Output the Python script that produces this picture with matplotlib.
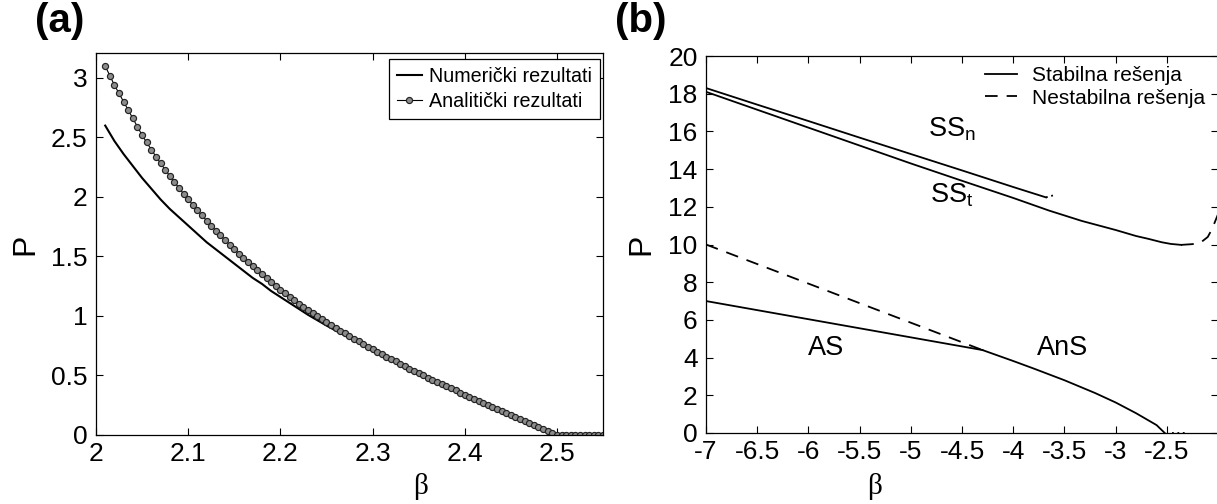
import matplotlib
matplotlib.use("Agg")
import matplotlib.pyplot as plt
from matplotlib.ticker import FixedLocator, FixedFormatter

plt.rcParams["font.family"] = ["Liberation Sans", "DejaVu Sans"]
plt.rcParams["axes.unicode_minus"] = False

# ---------------- panel (a): P versus beta ----------------
beta_num = [2.01, 2.02, 2.03, 2.04, 2.05, 2.06, 2.07, 2.08, 2.09, 2.10,
            2.11, 2.12, 2.13, 2.14, 2.15, 2.16, 2.17, 2.18, 2.19, 2.20,
            2.21, 2.22, 2.23, 2.24, 2.25, 2.26, 2.27, 2.28, 2.29, 2.30,
            2.31, 2.32, 2.33, 2.34, 2.35, 2.36, 2.37, 2.38, 2.39, 2.40,
            2.41, 2.42, 2.43, 2.44, 2.45, 2.46, 2.47, 2.48, 2.49, 2.50,
            2.55]
p_num = [2.60, 2.47, 2.36, 2.26, 2.16, 2.07, 1.98, 1.90, 1.83, 1.76,
         1.69, 1.62, 1.56, 1.50, 1.44, 1.38, 1.32, 1.27, 1.21, 1.16,
         1.11, 1.06, 1.01, 0.965, 0.92, 0.878, 0.836, 0.795, 0.755, 0.715,
         0.676, 0.637, 0.598, 0.559, 0.52, 0.484, 0.448, 0.412, 0.376, 0.34,
         0.306, 0.272, 0.238, 0.204, 0.17, 0.136, 0.102, 0.068, 0.034, 0.0,
         0.0]

beta_an = [2.010, 2.015, 2.020, 2.025, 2.030, 2.035, 2.040, 2.045, 2.050,
           2.055, 2.060, 2.065, 2.070, 2.075, 2.080, 2.085, 2.090, 2.095, 2.100,
           2.105, 2.110, 2.115, 2.120, 2.125, 2.130, 2.135, 2.140, 2.145, 2.150,
           2.155, 2.160, 2.165, 2.170, 2.175, 2.180, 2.185, 2.190, 2.195, 2.200,
           2.205, 2.210, 2.215, 2.220, 2.225, 2.230, 2.235, 2.240, 2.245, 2.250,
           2.255, 2.260, 2.265, 2.270, 2.275, 2.280, 2.285, 2.290, 2.295, 2.300,
           2.305, 2.310, 2.315, 2.320, 2.325, 2.330, 2.335, 2.340, 2.345, 2.350,
           2.355, 2.360, 2.365, 2.370, 2.375, 2.380, 2.385, 2.390, 2.395, 2.400,
           2.405, 2.410, 2.415, 2.420, 2.425, 2.430, 2.435, 2.440, 2.445, 2.450,
           2.455, 2.460, 2.465, 2.470, 2.475, 2.480, 2.485, 2.490, 2.495, 2.500,
           2.505, 2.510, 2.515, 2.520, 2.525, 2.530, 2.535, 2.540, 2.545, 2.550]
p_an = [3.10, 3.02, 2.94, 2.87, 2.80, 2.73, 2.66, 2.59, 2.52,
        2.458, 2.398, 2.340, 2.284, 2.230, 2.177, 2.126, 2.076, 2.027, 1.980,
        1.934, 1.889, 1.845, 1.802, 1.760, 1.718, 1.677, 1.637, 1.598, 1.560,
        1.523, 1.487, 1.452, 1.417, 1.383, 1.349, 1.316, 1.283, 1.251, 1.220,
        1.190, 1.161, 1.133, 1.105, 1.078, 1.051, 1.025, 1.000, 0.975, 0.950,
        0.926, 0.902, 0.878, 0.855, 0.832, 0.809, 0.786, 0.764, 0.742, 0.720,
        0.699, 0.678, 0.658, 0.638, 0.618, 0.598, 0.578, 0.558, 0.539, 0.520,
        0.501, 0.482, 0.464, 0.446, 0.428, 0.410, 0.392, 0.374, 0.357, 0.340,
        0.323, 0.306, 0.289, 0.272, 0.255, 0.238, 0.221, 0.204, 0.187, 0.170,
        0.153, 0.136, 0.119, 0.102, 0.085, 0.068, 0.051, 0.034, 0.017, 0.000,
        0.0, 0.0, 0.0, 0.0, 0.0, 0.0, 0.0, 0.0, 0.0, 0.0]

a_xticks = [2.0, 2.1, 2.2, 2.3, 2.4, 2.5]
a_xticklabels = ["2", "2.1", "2.2", "2.3", "2.4", "2.5"]
a_yticks = [0, 0.5, 1.0, 1.5, 2.0, 2.5, 3.0]
a_yticklabels = ["0", "0.5", "1", "1.5", "2", "2.5", "3"]
a_legend = ["Numerički rezultati", "Analitički rezultati"]

# ---------------- panel (b): solution branches ----------------
ssn_beta = [-7.0, -6.5, -6.0, -5.5, -5.0, -4.5, -4.0, -3.68]
ssn_p = [18.3, 17.42, 16.55, 15.67, 14.8, 13.93, 13.05, 12.5]
ssn_tail_beta = [-3.68, -3.6]
ssn_tail_p = [12.5, 12.62]

sst_beta = [-7.0, -6.5, -6.0, -5.5, -5.0, -4.5, -4.0, -3.65, -3.33, -3.0,
            -2.8, -2.68, -2.55, -2.46, -2.36]
sst_p = [18.1, 17.15, 16.2, 15.25, 14.3, 13.38, 12.47, 11.8, 11.25, 10.77,
         10.45, 10.3, 10.12, 10.03, 9.98]
sst_unstable_beta = [-2.36, -2.25, -2.17, -2.10, -2.06, -2.03, -2.0]
sst_unstable_p = [9.98, 10.02, 10.1, 10.4, 10.8, 11.2, 11.6]

as_beta = [-7.0, -4.3]
as_p = [7.0, 4.4]
as_unstable_beta = [-7.0, -4.3]
as_unstable_p = [10.0, 4.4]

ans_beta = [-4.3, -4.0, -3.8, -3.5, -3.2, -3.0, -2.8, -2.6, -2.52]
ans_p = [4.4, 3.82, 3.42, 2.8, 2.12, 1.62, 1.05, 0.42, 0.0]
zero_tail_beta = [-2.45, -2.3]
zero_tail_p = [0.0, 0.0]

b_xticks = [-7.0, -6.5, -6.0, -5.5, -5.0, -4.5, -4.0, -3.5, -3.0, -2.5]
b_xticklabels = ["-7", "-6.5", "-6", "-5.5", "-5", "-4.5", "-4", "-3.5", "-3", "-2.5"]
b_yticks = [0, 2, 4, 6, 8, 10, 12, 14, 16, 18, 20]
b_yticklabels = [str(v) for v in b_yticks]
b_legend = ["Stabilna rešenja", "Nestabilna rešenja"]

branch_labels = [("SS$_\\mathregular{n}$", -4.6, 16.1),
                 ("SS$_\\mathregular{t}$", -4.6, 12.6),
                 ("AS", -5.83, 4.5),
                 ("AnS", -3.52, 4.5)]

W, H = 1217, 504
fig = plt.figure(figsize=(W / 100, H / 100), dpi=100)

ax1 = fig.add_axes([96 / W, (H - 435) / H, 507 / W, 382 / H])
ax2 = fig.add_axes([706 / W, (H - 433) / H, 512 / W, 377 / H])

TICK_FS = 19
for ax in (ax1, ax2):
    ax.tick_params(direction="in", top=True, right=True, length=5, width=0.8,
                   labelsize=TICK_FS, colors="black")
    ax.tick_params(axis="x", pad=5)
    ax.tick_params(axis="y", pad=6)
    for s in ax.spines.values():
        s.set_linewidth(0.9)
        s.set_color("black")

BETA_FONT = ["Liberation Serif", "DejaVu Serif"]

# panel (a)
ax1.plot(beta_num, p_num, color="black", lw=1.5, label=a_legend[0])
ax1.plot(beta_an, p_an, color="black", lw=0.8, marker="o", markersize=4.4,
         markerfacecolor="#8c8c8c", markeredgecolor="#222222", markeredgewidth=0.85,
         label=a_legend[1])
ax1.set_xlim(2.0, 2.55)
ax1.set_ylim(0, 3.21)
ax1.xaxis.set_major_locator(FixedLocator(a_xticks))
ax1.xaxis.set_major_formatter(FixedFormatter(a_xticklabels))
ax1.yaxis.set_major_locator(FixedLocator(a_yticks))
ax1.yaxis.set_major_formatter(FixedFormatter(a_yticklabels))
leg1 = ax1.legend(loc="upper right", bbox_to_anchor=(1 - 3 / 507, 1 - 6 / 382),
                  borderaxespad=0, fontsize=14.2, frameon=True, fancybox=False,
                  edgecolor="black", framealpha=1, handlelength=1.3,
                  handletextpad=0.35, borderpad=0.4, labelspacing=0.3)
leg1.get_frame().set_linewidth(0.9)
ax1.set_xlabel("β", family=BETA_FONT, fontsize=21, va="center")
ax1.xaxis.set_label_coords(0.64, -(487 - 435) / 382, transform=ax1.transAxes)
ax1.set_ylabel("P", fontsize=23)
ax1.yaxis.set_label_coords(-56 / 507, 0.5, transform=ax1.transAxes)

# panel (b)
DASH = (0, (7, 5))
ax2.plot(ssn_beta, ssn_p, color="black", lw=1.3)
ax2.plot(ssn_tail_beta, ssn_tail_p, color="black", lw=1.3, ls=(0, (1, 2)))
ax2.plot(sst_beta, sst_p, color="black", lw=1.3, label=b_legend[0])
ax2.plot(sst_unstable_beta, sst_unstable_p, color="black", lw=1.3, ls=DASH)
ax2.plot(as_beta, as_p, color="black", lw=1.3)
ax2.plot(as_unstable_beta, as_unstable_p, color="black", lw=1.3, ls=DASH,
         label=b_legend[1])
ax2.plot(ans_beta, ans_p, color="black", lw=1.3)
ax2.plot(zero_tail_beta, zero_tail_p, color="black", lw=1.3, ls=(0, (1, 2)))
ax2.set_xlim(-7, -2)
ax2.set_ylim(0, 20)
ax2.xaxis.set_major_locator(FixedLocator(b_xticks))
ax2.xaxis.set_major_formatter(FixedFormatter(b_xticklabels))
ax2.yaxis.set_major_locator(FixedLocator(b_yticks))
ax2.yaxis.set_major_formatter(FixedFormatter(b_yticklabels))
ax2.legend(loc="upper right", bbox_to_anchor=(1 - 9 / 512, 1 - 6 / 377),
           borderaxespad=0, fontsize=15, frameon=False, handlelength=1.54,
           handletextpad=0.72, borderpad=0.2, labelspacing=0.17)
for txt, bx, by in branch_labels:
    ax2.text(bx, by, txt, fontsize=19.5, ha="center", va="center")
ax2.set_xlabel("β", family=BETA_FONT, fontsize=21, va="center")
ax2.xaxis.set_label_coords(0.33, -(487 - 433) / 377, transform=ax2.transAxes)
ax2.set_ylabel("P", fontsize=23)
ax2.yaxis.set_label_coords(-50 / 512, 0.5, transform=ax2.transAxes)

fig.text(35 / W, 1 - 21 / H, "(a)", fontsize=29, fontweight="bold", va="center", ha="left")
fig.text(615 / W, 1 - 21 / H, "(b)", fontsize=29, fontweight="bold", va="center", ha="left")

fig.savefig("out.png", dpi=100)
